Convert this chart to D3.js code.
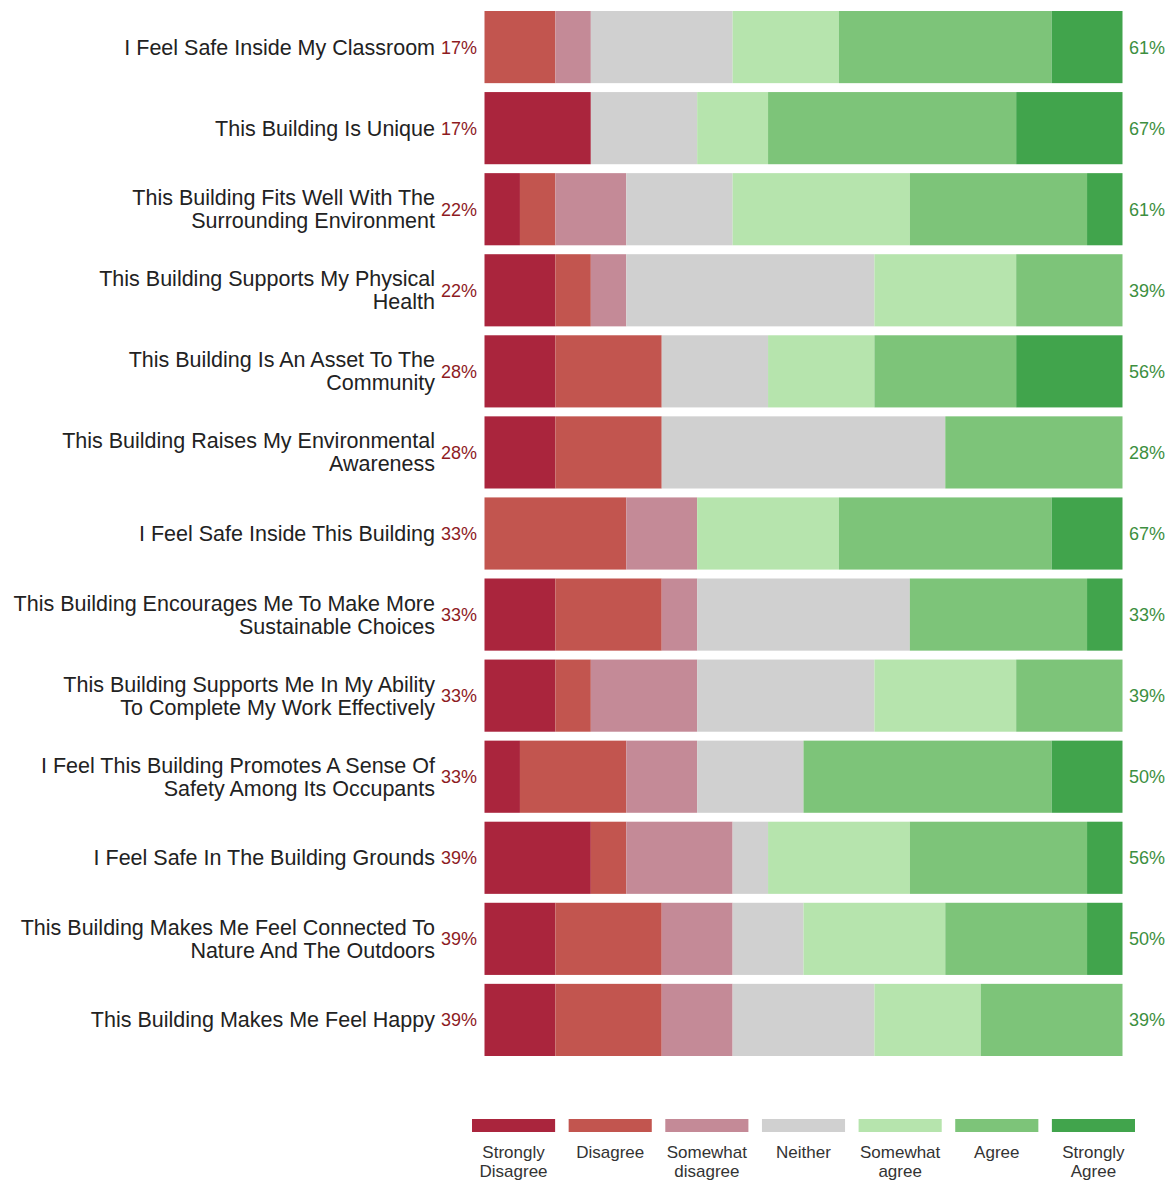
<!DOCTYPE html>
<html>
<head>
<meta charset="utf-8">
<script src="https://cdn.jsdelivr.net/npm/d3@7"></script>
<style>
  body { margin: 0; background: #fff; }
  text { font-family: "Liberation Sans", Arial, sans-serif; }
</style>
</head>
<body>
<div id="chart"></div>
<script>
// questions, top to bottom (lines split for wrapping)
var questions = [
  ["I Feel Safe Inside My Classroom"],
  ["This Building Is Unique"],
  ["This Building Fits Well With The", "Surrounding Environment"],
  ["This Building Supports My Physical", "Health"],
  ["This Building Is An Asset To The", "Community"],
  ["This Building Raises My Environmental", "Awareness"],
  ["I Feel Safe Inside This Building"],
  ["This Building Encourages Me To Make More", "Sustainable Choices"],
  ["This Building Supports Me In My Ability", "To Complete My Work Effectively"],
  ["I Feel This Building Promotes A Sense Of", "Safety Among Its Occupants"],
  ["I Feel Safe In The Building Grounds"],
  ["This Building Makes Me Feel Connected To", "Nature And The Outdoors"],
  ["This Building Makes Me Feel Happy"]
];

var levels = ["Strongly Disagree", "Disagree", "Somewhat disagree", "Neither",
              "Somewhat agree", "Agree", "Strongly Agree"];
var legendLines = [["Strongly", "Disagree"], ["Disagree"], ["Somewhat", "disagree"], ["Neither"],
                   ["Somewhat", "agree"], ["Agree"], ["Strongly", "Agree"]];
var colors = ["#aa253d", "#c2554f", "#c48a97", "#d0d0d0", "#b6e4ad", "#7dc479", "#41a44c"];

// response counts per level (18 respondents)
var stronglyDisagree = [0, 3, 1, 2, 2, 2, 0, 2, 2, 1, 3, 2, 2];
var disagree         = [2, 0, 1, 1, 3, 3, 4, 3, 1, 3, 1, 3, 3];
var somewhatDisagree = [1, 0, 2, 1, 0, 0, 2, 1, 3, 2, 3, 2, 2];
var neither          = [4, 3, 3, 7, 3, 8, 0, 6, 5, 3, 1, 2, 4];
var somewhatAgree    = [3, 2, 5, 4, 3, 0, 4, 0, 4, 0, 4, 4, 3];
var agree            = [6, 7, 5, 3, 4, 5, 6, 5, 3, 7, 5, 4, 4];
var stronglyAgree    = [2, 3, 1, 0, 3, 0, 2, 1, 0, 2, 1, 1, 0];

var series = [stronglyDisagree, disagree, somewhatDisagree, neither, somewhatAgree, agree, stronglyAgree];

var width = 1174, height = 1180;
var svg = d3.select("#chart").append("svg")
    .attr("width", width)
    .attr("height", height);

var rows = questions.map(function(q, i) {
  var row = { idx: i, label: q };
  var total = 0;
  series.forEach(function(s) { total += s[i]; });
  row.total = total;
  var cum = 0;
  row.segs = series.map(function(s, k) {
    var seg = { k: k, x0: cum / total, x1: (cum + s[i]) / total };
    cum += s[i];
    return seg;
  });
  row.neg = (stronglyDisagree[i] + disagree[i] + somewhatDisagree[i]) / total;
  row.pos = (somewhatAgree[i] + agree[i] + stronglyAgree[i]) / total;
  return row;
});

var x = d3.scaleLinear().domain([0, 1]).range([484.5, 1122.5]);
var y = d3.scaleBand().domain(d3.range(questions.length))
    .range([11, 1056]).paddingInner(0.11).paddingOuter(0);

var g = svg.selectAll("g.row").data(rows).enter().append("g").attr("class", "row");

g.selectAll("rect").data(function(d) { return d.segs.filter(function(s) { return s.x1 > s.x0; }).map(function(s) { s.row = d.idx; return s; }); })
  .enter().append("rect")
    .attr("x", function(s) { return x(s.x0); })
    .attr("width", function(s) { return x(s.x1) - x(s.x0); })
    .attr("y", function(s) { return y(s.row); })
    .attr("height", y.bandwidth())
    .attr("fill", function(s) { return colors[s.k]; });

// question labels
g.append("text")
    .attr("x", 435)
    .attr("y", function(d) { return y(d.idx) + y.bandwidth() / 2; })
    .attr("text-anchor", "end")
    .attr("font-size", 21.5)
    .attr("fill", "#222")
    .each(function(d) {
      var t = d3.select(this);
      var n = d.label.length;
      d.label.forEach(function(line, j) {
        t.append("tspan")
          .attr("x", 435)
          .attr("dy", j === 0 ? ((-(n - 1) * 23 / 2) + 7.5) + "px" : "23px")
          .text(line);
      });
    });

var fmt = d3.format(".0%");

g.append("text")
    .attr("x", 441)
    .attr("y", function(d) { return y(d.idx) + y.bandwidth() / 2 + 6.5; })
    .attr("font-size", 18)
    .attr("fill", "#8e1b1f")
    .text(function(d) { return fmt(d.neg); });

g.append("text")
    .attr("x", 1129)
    .attr("y", function(d) { return y(d.idx) + y.bandwidth() / 2 + 6.5; })
    .attr("font-size", 18)
    .attr("fill", "#3d8f3f")
    .text(function(d) { return fmt(d.pos); });

// legend
var lx = d3.scaleBand().domain(d3.range(levels.length)).range([472, 1135]).paddingInner(0.14);
var lg = svg.selectAll("g.legend").data(levels).enter().append("g").attr("class", "legend");
lg.append("rect")
    .attr("x", function(d, i) { return lx(i); })
    .attr("y", 1119)
    .attr("width", lx.bandwidth())
    .attr("height", 13)
    .attr("fill", function(d, i) { return colors[i]; });
lg.append("text")
    .attr("text-anchor", "middle")
    .attr("font-size", 17)
    .attr("fill", "#333")
    .each(function(d, i) {
      var t = d3.select(this);
      legendLines[i].forEach(function(line, j) {
        t.append("tspan")
          .attr("x", lx(i) + lx.bandwidth() / 2)
          .attr("y", 1158 + j * 19)
          .text(line);
      });
    });
</script>
</body>
</html>
